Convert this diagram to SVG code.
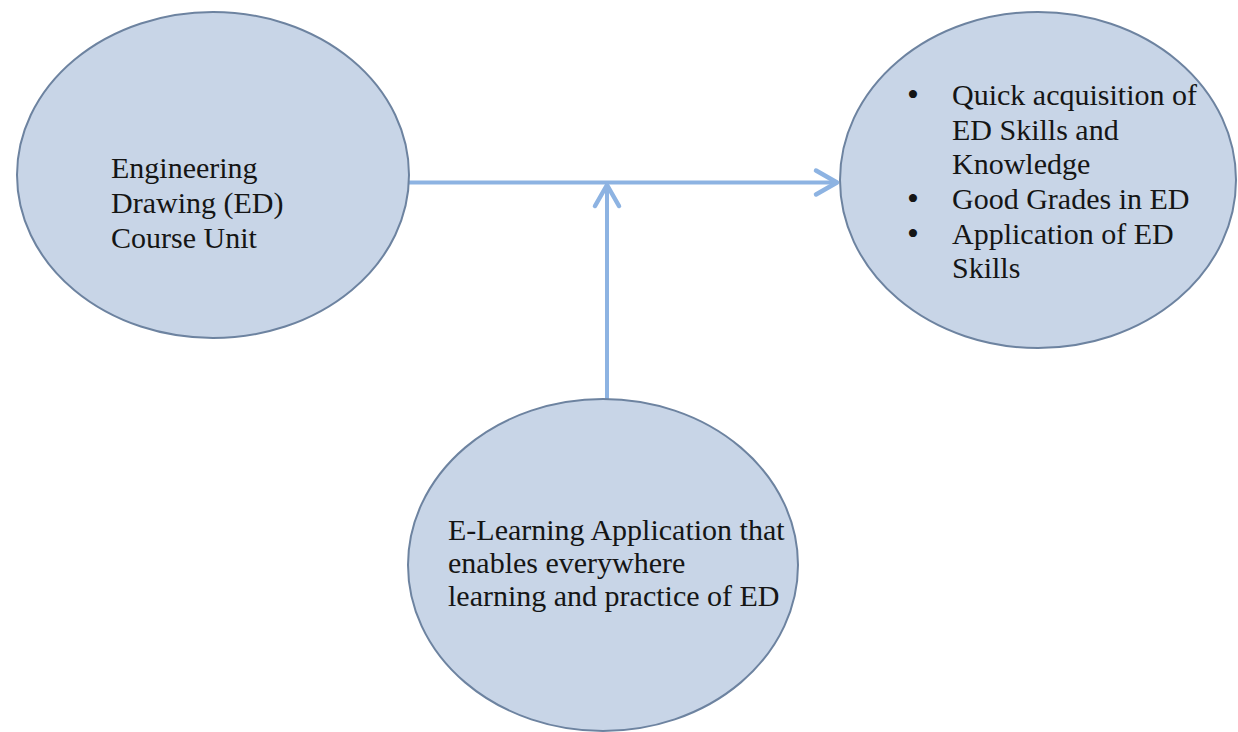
<svg xmlns="http://www.w3.org/2000/svg" width="1238" height="732" viewBox="0 0 1238 732">
  <style>
    .node { fill: #c8d5e7; stroke: #6d83a0; stroke-width: 2; }
    .lbl { font-family: "Liberation Serif", "Times New Roman", serif; font-size: 30px; fill: #151515; }
    .bul { font-size: 34px; }
    .conn { fill: none; stroke: #8db3e2; stroke-width: 4; marker-end: url(#chev); }
  </style>
  <defs>
    <marker id="chev" markerUnits="userSpaceOnUse" viewBox="-26 -16 30 32" refX="0" refY="0" markerWidth="30" markerHeight="32" orient="auto" overflow="visible">
      <path d="M-21,-12 L0,0 L-21,12" fill="none" stroke="#8db3e2" stroke-width="4.5" stroke-linecap="round" stroke-linejoin="round"/>
    </marker>
  </defs>
  <rect width="1238" height="732" fill="#ffffff"/>
  <g id="connectors">
    <path class="conn" d="M409,182.5 L837,182.5"/>
    <path class="conn" d="M607,399 L607,185"/>
  </g>
  <g id="node-ed-course">
    <ellipse class="node" cx="213" cy="175" rx="196" ry="163"/>
    <text class="lbl" x="111" y="178">Engineering</text>
    <text class="lbl" x="111" y="213">Drawing (ED)</text>
    <text class="lbl" x="111" y="248">Course Unit</text>
  </g>
  <g id="node-outcomes">
    <ellipse class="node" cx="1038" cy="180" rx="198" ry="168"/>
    <text class="lbl" x="907" y="106"><tspan class="bul">•</tspan><tspan x="952" y="105">Quick acquisition of</tspan></text>
    <text class="lbl" x="952" y="140">ED Skills and</text>
    <text class="lbl" x="952" y="174">Knowledge</text>
    <text class="lbl" x="907" y="210"><tspan class="bul">•</tspan><tspan x="952" y="209">Good Grades in ED</tspan></text>
    <text class="lbl" x="907" y="245"><tspan class="bul">•</tspan><tspan x="952" y="244">Application of ED</tspan></text>
    <text class="lbl" x="952" y="278">Skills</text>
  </g>
  <g id="node-elearning">
    <ellipse class="node" cx="603" cy="565" rx="195" ry="166"/>
    <text class="lbl" x="448" y="540">E-Learning Application that</text>
    <text class="lbl" x="448" y="573">enables everywhere</text>
    <text class="lbl" x="448" y="606">learning and practice of ED</text>
  </g>
</svg>
